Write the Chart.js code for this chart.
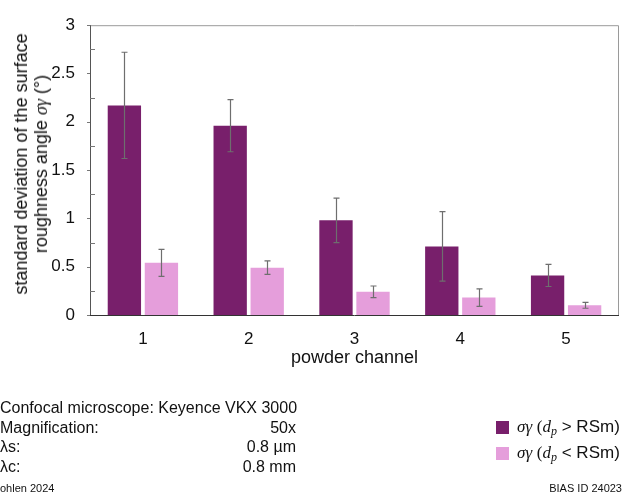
<!DOCTYPE html>
<html>
<head>
<meta charset="utf-8">
<script src="https://cdn.jsdelivr.net/npm/chart.js@4.4.1/dist/chart.umd.min.js"></script>
<style>
  html, body { margin: 0; padding: 0; background: #fff; }
  #wrap { position: relative; width: 623px; height: 500px; overflow: hidden;
          font-family: "Liberation Sans", Arial, sans-serif; color: #111; }
  #chart { position: absolute; left: 0; top: 0; }
  .ytitle { position: absolute; left: 31px; top: 164px; transform: translate(-50%, -50%) rotate(-90deg);
            white-space: nowrap; text-align: center; font-size: 18px; line-height: 20px; }
  .math { font-family: "Liberation Serif", "DejaVu Serif", serif; font-style: italic; }
  .serif { font-family: "Liberation Serif", "DejaVu Serif", serif; }
  .info { position: absolute; left: 0; font-size: 16px; line-height: 19.5px; width: 296px; }
  .info div { display: flex; justify-content: space-between; white-space: nowrap; }
  .small { position: absolute; font-size: 11px; top: 482px; white-space: nowrap; }
  .legend { position: absolute; left: 496px; top: 414px; font-size: 17px; }
  .legend .row { display: flex; align-items: center; height: 26px; white-space: nowrap; }
  .legend .sw { width: 13px; height: 13px; margin-right: 8px; }
  sub { font-size: 12px; vertical-align: -3px; line-height: 0; }
</style>
</head>
<body>
<div id="wrap">
  <canvas id="chart" width="623" height="500"></canvas>
  <div class="ytitle">standard deviation of the surface<br>roughness angle <span class="math">σγ</span> (°)</div>
  <div class="info" style="top:398px">
    <div><span>Confocal microscope: Keyence VKX 3000</span></div>
    <div><span>Magnification:</span><span>50x</span></div>
    <div><span>λs:</span><span>0.8 µm</span></div>
    <div><span>λc:</span><span>0.8 mm</span></div>
  </div>
  <div class="small" style="left:0">ohlen 2024</div>
  <div class="small" style="right:1px">BIAS ID 24023</div>
  <div class="legend" id="legend"></div>
</div>
<script>
// powder channels and measured roughness-angle deviations (degrees)
const channels = ['1', '2', '3', '4', '5'];
const sigmaLarge = [2.17, 1.96, 0.98, 0.71, 0.41];      // d_p > RSm
const sigmaLargeErr = [0.55, 0.27, 0.23, 0.36, 0.115];
const sigmaSmall = [0.54, 0.49, 0.24, 0.18, 0.10];      // d_p < RSm
const sigmaSmallErr = [0.14, 0.07, 0.06, 0.09, 0.03];
const yTicks = [0, 0.5, 1, 1.5, 2, 2.5, 3];

const darkColor = '#781F6B';
const lightColor = '#E59EDB';

// whisker lines for each bar, placed through the value scale
const errorBars = {
  id: 'errorBars',
  afterDatasetsDraw(chart) {
    const ctx = chart.ctx;
    const y = chart.scales.y;
    ctx.save();
    ctx.strokeStyle = '#6e6e6e';
    ctx.lineWidth = 1.2;
    chart.data.datasets.forEach((ds, i) => {
      const meta = chart.getDatasetMeta(i);
      meta.data.forEach((bar, j) => {
        const v = ds.data[j], e = ds.errors[j];
        const x = Math.round(bar.x) + 0.5;
        const yt = y.getPixelForValue(v + e);
        const yb = y.getPixelForValue(v - e);
        ctx.beginPath();
        ctx.moveTo(x, yt); ctx.lineTo(x, yb);
        ctx.moveTo(x - 3, yt); ctx.lineTo(x + 3, yt);
        ctx.moveTo(x - 3, yb); ctx.lineTo(x + 3, yb);
        ctx.stroke();
      });
    });
    ctx.restore();
  }
};

// plot frame, tick marks and the x-axis caption
const frame = {
  id: 'frame',
  afterDraw(chart) {
    const ctx = chart.ctx;
    const a = chart.chartArea;
    const y = chart.scales.y;
    ctx.save();
    ctx.lineWidth = 1;
    ctx.strokeStyle = '#9a9a9a';
    ctx.beginPath();
    ctx.moveTo(a.left, a.top + 0.5); ctx.lineTo(a.right - 0.5, a.top + 0.5);
    ctx.lineTo(a.right - 0.5, a.bottom);
    ctx.stroke();
    ctx.strokeStyle = '#555';
    ctx.beginPath();
    ctx.moveTo(a.left + 0.5, a.top); ctx.lineTo(a.left + 0.5, a.bottom);
    ctx.stroke();
    ctx.strokeStyle = '#333';
    ctx.beginPath();
    ctx.moveTo(a.left, a.bottom + 0.5); ctx.lineTo(a.right, a.bottom + 0.5);
    ctx.stroke();
    // tick marks on the value axis
    ctx.strokeStyle = '#777';
    for (let v = 0; v <= 3.001; v += 0.25) {
      const py = Math.round(y.getPixelForValue(v)) + 0.5;
      const major = Math.abs(v * 2 - Math.round(v * 2)) < 1e-6;
      ctx.beginPath();
      if (major) { ctx.moveTo(a.left - 3, py); ctx.lineTo(a.left, py); }
      else { ctx.moveTo(a.left, py); ctx.lineTo(a.left + 5, py); }
      ctx.stroke();
    }
    ctx.fillStyle = '#111';
    ctx.font = '18px "Liberation Sans", Arial, sans-serif';
    ctx.textAlign = 'center';
    ctx.textBaseline = 'middle';
    ctx.fillText('powder channel', (a.left + a.right) / 2, 358);
    ctx.restore();
  }
};

const chart = new Chart(document.getElementById('chart'), {
  type: 'bar',
  data: {
    labels: channels,
    datasets: [
      { label: 'σγ (dp > RSm)', data: sigmaLarge, errors: sigmaLargeErr,
        backgroundColor: darkColor, borderWidth: 0 },
      { label: 'σγ (dp < RSm)', data: sigmaSmall, errors: sigmaSmallErr,
        backgroundColor: lightColor, borderWidth: 0 }
    ]
  },
  options: {
    responsive: false,
    animation: false,
    devicePixelRatio: 1,
    categoryPercentage: 0.7,
    barPercentage: 0.9,
    layout: { padding: { top: 13, right: 4, bottom: 120, left: 0 } },
    plugins: { legend: { display: false }, tooltip: { enabled: false } },
    scales: {
      x: {
        grid: { display: false },
        border: { display: false },
        ticks: { color: '#111', font: { size: 17, family: '"Liberation Sans", Arial, sans-serif' }, padding: 6 },
        afterFit(s) { s.height = 65; }
      },
      y: {
        min: 0, max: 3,
        afterBuildTicks(s) { s.ticks = yTicks.map(v => ({ value: v })); },
        grid: { display: false, drawTicks: false },
        border: { display: false },
        ticks: { color: '#111', font: { size: 17, family: '"Liberation Sans", Arial, sans-serif' }, padding: 15,
                 callback: v => String(v) },
        afterFit(s) { s.width = 90; }
      }
    }
  },
  plugins: [errorBars, frame]
});

// legend with formatted series names
const legendNames = [
  '<span class="math">σγ</span> <span class="serif">(</span><span class="math">d<sub>p</sub></span> &gt; RSm)',
  '<span class="math">σγ</span> <span class="serif">(</span><span class="math">d<sub>p</sub></span> &lt; RSm)'
];
document.getElementById('legend').innerHTML = chart.data.datasets.map((ds, i) =>
  `<div class="row"><div class="sw" style="background:${ds.backgroundColor}"></div><div>${legendNames[i]}</div></div>`
).join('');
</script>
</body>
</html>
